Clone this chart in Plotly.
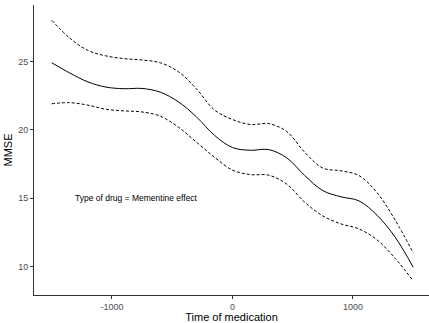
import plotly.graph_objects as go

# Time of medication (days) and fitted MMSE with confidence bounds
time_days = [-1500, -1350, -1200, -1050, -900, -750, -600, -450, -300, -150,
             0, 150, 300, 450, 600, 750, 900, 1050, 1200, 1350, 1500]
mmse_fit = [24.9, 24.15, 23.5, 23.12, 23.0, 23.02, 22.75, 22.05, 20.95, 19.6,
            18.7, 18.5, 18.55, 17.95, 16.65, 15.55, 15.1, 14.8, 13.75, 12.15, 9.95]
mmse_upper = [28.0, 26.7, 25.8, 25.4, 25.2, 25.1, 24.9, 24.25, 23.0, 21.45,
              20.75, 20.38, 20.45, 19.87, 18.35, 17.2, 17.0, 16.65, 15.4, 13.4, 11.0]
mmse_lower = [21.9, 21.98, 21.8, 21.5, 21.38, 21.3, 21.0, 20.2, 19.1, 18.0,
              17.05, 16.72, 16.68, 16.03, 14.7, 13.7, 13.12, 12.75, 11.95, 10.6, 8.95]

x_ticks = [-1000, 0, 1000]
x_tick_labels = ["-1000", "0", "1000"]
y_ticks = [10, 15, 20, 25]
label_text = "Type of drug = Mementine effect"
label_pos = (-800, 15)

fig = go.Figure()
for vals, dash in [(mmse_upper, "3px,2px"), (mmse_lower, "3px,2px"), (mmse_fit, "solid")]:
    fig.add_trace(go.Scatter(
        x=time_days, y=vals, mode="lines",
        line=dict(color="black", width=1, dash=dash, shape="spline", smoothing=1.0),
        showlegend=False, hoverinfo="skip",
    ))

fig.add_annotation(
    x=label_pos[0], y=label_pos[1], text=label_text, showarrow=False,
    font=dict(family="Liberation Sans, Arial, sans-serif", size=8.5, color="black"),
    xanchor="center", yanchor="middle",
)

axis_common = dict(
    showline=True, linecolor="#333333", linewidth=1,
    ticks="outside", ticklen=3, tickcolor="#333333", tickwidth=1,
    showgrid=False, zeroline=False,
    tickfont=dict(family="Liberation Sans, Arial, sans-serif", size=9, color="#4D4D4D"),
    title_font=dict(family="Liberation Sans, Arial, sans-serif", size=11, color="black"),
)

fig.update_layout(
    width=429, height=323,
    margin=dict(l=34, r=0, t=5, b=25),
    plot_bgcolor="white", paper_bgcolor="white",
    xaxis=dict(range=[-1647, 1631], tickvals=x_ticks, ticktext=x_tick_labels,
               title=dict(text="Time of medication", standoff=4), **axis_common),
    yaxis=dict(range=[7.92, 29.12], tickvals=y_ticks,
               title=dict(text="MMSE", standoff=3), **axis_common),
)

fig.write_html("out.html")
